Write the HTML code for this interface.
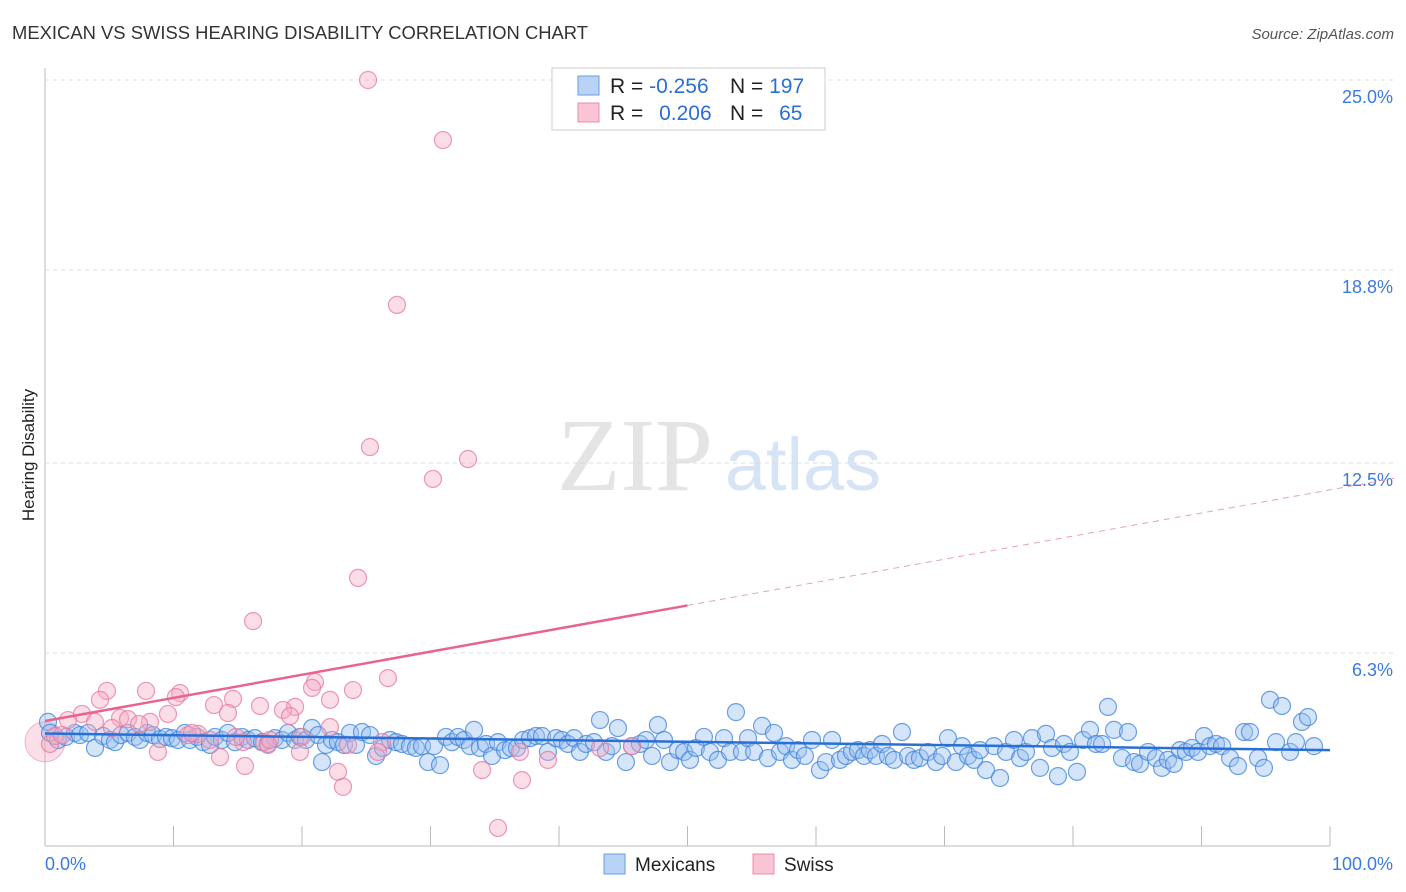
<!DOCTYPE html>
<html><head><meta charset="utf-8"><style>
body{margin:0;background:#fff;font-family:"Liberation Sans",sans-serif}
#wrap{position:relative;width:1406px;height:892px;overflow:hidden}
</style></head><body>
<div id="wrap">
<svg id="svg" width="1406" height="892" xmlns="http://www.w3.org/2000/svg">
<text x="12" y="39" font-size="18.4" fill="#333" textLength="576">MEXICAN VS SWISS HEARING DISABILITY CORRELATION CHART</text>
<text x="1394" y="39" font-size="15" fill="#555" text-anchor="end" font-style="italic">Source: ZipAtlas.com</text>
<text x="34" y="455" font-size="17" fill="#222" text-anchor="middle" transform="rotate(-90 34 455)">Hearing Disability</text>
<g><text x="635" y="490" font-size="104" fill="#e4e4e4" text-anchor="middle" font-family="Liberation Serif,serif">ZIP</text><text x="803" y="490" font-size="74" fill="#d6e4f5" text-anchor="middle">atlas</text></g>
<g id="grid"></g><g id="pts"></g><g id="trend"></g>
<g>
<rect x="552" y="68" width="273" height="62" fill="#fff" stroke="#ccc"/>
<rect x="578" y="76" width="21" height="19" fill="#b8d3f5" stroke="#6a9de0"/>
<rect x="578" y="103" width="21" height="19" fill="#f9c4d4" stroke="#ec8ca8"/>
<text x="610" y="93" font-size="21" fill="#222">R = <tspan fill="#2a6fd6">-0.256</tspan></text>
<text x="730" y="93" font-size="21" fill="#222">N = <tspan fill="#2a6fd6">197</tspan></text>
<text x="610" y="120" font-size="21" fill="#222">R = <tspan fill="#2a6fd6" dx="10">0.206</tspan></text>
<text x="730" y="120" font-size="21" fill="#222">N = <tspan fill="#2a6fd6" dx="10">65</tspan></text>
</g>
<g>
<rect x="604" y="854" width="21" height="20" fill="#b8d3f5" stroke="#6a9de0"/>
<text x="635" y="871" font-size="19" fill="#222">Mexicans</text>
<rect x="753" y="854" width="21" height="20" fill="#f9c4d4" stroke="#ec8ca8"/>
<text x="784" y="871" font-size="19" fill="#222">Swiss</text>
</g>
</svg></div>
<script>
const yTicks=[25,18.8,12.5,6.3];
const yTickLabels=["25.0%","18.8%","12.5%","6.3%"];
const xTickLabels=["0.0%","100.0%"];
const blueX=[];const blueY=[];const pinkX=[];const pinkY=[];
const bluePx=[48,722,50,733,58,740,66,737,75,733,80,735,88,733,95,748,103,736,110,740,115,742,121,735,128,733,135,737,140,740,147,733,153,735,160,739,166,737,172,738,178,740,185,733,190,740,197,737,203,742,210,745,215,737,222,740,228,733,235,742,242,737,248,740,255,738,262,742,268,744,275,738,282,740,288,733,295,740,300,737,306,740,312,728,318,735,322,762,326,745,332,740,338,742,344,745,350,733,356,745,362,732,370,735,376,756,383,748,390,740,396,742,402,744,410,746,416,748,422,746,428,762,434,746,440,765,446,737,452,742,458,737,464,740,470,746,474,730,480,748,486,744,492,756,498,742,505,750,511,748,517,748,523,740,530,738,536,736,542,736,548,752,556,738,562,740,568,744,574,738,580,752,586,744,594,742,600,720,606,752,612,746,618,728,626,762,632,746,640,744,646,740,652,756,658,725,664,740,670,762,678,750,684,752,690,760,696,748,704,737,710,752,718,760,724,738,730,752,736,712,742,752,748,738,754,752,762,726,768,758,774,733,780,752,786,746,792,760,798,750,805,756,812,740,820,770,826,762,832,740,840,760,846,756,852,752,858,750,864,756,870,750,876,756,882,744,888,756,894,760,902,732,908,756,914,760,920,758,928,752,936,762,942,756,948,738,956,762,962,746,968,756,974,760,980,750,986,770,994,746,1000,778,1006,752,1014,740,1020,758,1026,752,1032,738,1040,768,1046,734,1052,748,1058,776,1064,744,1070,752,1077,772,1083,740,1090,730,1096,744,1102,744,1108,707,1114,730,1122,758,1128,732,1134,762,1140,764,1148,752,1156,758,1162,768,1168,760,1174,764,1180,750,1186,752,1192,748,1198,752,1204,736,1210,746,1216,744,1222,746,1230,758,1238,766,1244,732,1250,732,1258,758,1264,768,1270,700,1276,742,1282,706,1290,752,1296,742,1302,722,1308,717,1314,746];
const pinkPx=[368,80,443,140,397,305,370,447,468,459,433,479,358,578,253,621,388,678,315,682,353,690,312,688,107,691,146,691,180,693,176,697,100,700,233,699,214,705,295,707,283,710,330,700,260,706,228,713,168,714,290,716,82,714,68,720,95,722,120,718,128,719,150,722,139,724,112,728,198,734,188,735,192,733,210,740,243,742,330,727,264,742,302,737,382,742,348,745,268,745,158,752,220,757,300,752,378,752,520,752,548,760,632,746,245,766,482,770,338,772,522,780,343,787,498,828,50,744,55,736,62,735,270,740,236,737,600,748];
for(let i=0;i<bluePx.length;i+=2){blueX.push(+((bluePx[i]-45)/12.85).toFixed(2));blueY.push(+((846-bluePx[i+1])/30.64).toFixed(2));}
for(let i=0;i<pinkPx.length;i+=2){pinkX.push(+((pinkPx[i]-45)/12.85).toFixed(2));pinkY.push(+((846-pinkPx[i+1])/30.64).toFixed(2));}
const blueTrend=[3.67,3.13];const pinkTrend=[4.08,12.0];
const X=v=>45+v*12.85, Y=v=>846-v*30.64;
const NS="http://www.w3.org/2000/svg";
function mk(t,a,p){const e=document.createElementNS(NS,t);for(const k in a)e.setAttribute(k,a[k]);p.appendChild(e);return e;}
const grid=document.getElementById('grid');
mk('line',{x1:45,y1:68,x2:45,y2:846,stroke:'#bbb'},grid);
mk('line',{x1:45,y1:846,x2:1330,y2:846,stroke:'#bbb'},grid);
yTicks.forEach((t,i)=>{
 const g=mk('line',{x1:45,y1:Y(t),x2:1393,y2:Y(t),stroke:'#ddd','stroke-dasharray':'4,4'},grid);
 
 const tx=mk('text',{x:1393,y:Y(t)+23,'font-size':18,fill:'#3a7be0','text-anchor':'end'},grid);tx.textContent=yTickLabels[i];
 
});
for(let i=0;i<=10;i++){const l=mk('line',{x1:X(i*10),y1:846,x2:X(i*10),y2:826,stroke:'#bbb'},grid);
 }
const xl=[[45,'start'],[1393,'end']];
xTickLabels.forEach((s,i)=>{const t=mk('text',{x:xl[i][0],y:870,'font-size':18,fill:'#3a7be0','text-anchor':xl[i][1]},grid);t.textContent=s;
 });
const pts=document.getElementById('pts');
const big=mk('circle',{cx:X(0),cy:Y(3.4),r:20,fill:'rgba(244,160,185,0.35)',stroke:'rgba(230,120,150,0.5)'},pts);

blueX.forEach((x,i)=>{const c=mk('circle',{cx:X(x),cy:Y(blueY[i]),r:8.5,fill:'rgba(150,190,240,0.4)',stroke:'rgba(60,130,220,0.75)','stroke-width':1.2},pts);
 });
pinkX.forEach((x,i)=>{const c=mk('circle',{cx:X(x),cy:Y(pinkY[i]),r:8.5,fill:'rgba(245,170,195,0.4)',stroke:'rgba(230,120,155,0.75)','stroke-width':1.2},pts);
 });
const tr=document.getElementById('trend');
let l=mk('line',{x1:X(0),y1:Y(blueTrend[0]),x2:X(100),y2:Y(blueTrend[1]),stroke:'#2a6fd6','stroke-width':2.5},tr);

const pm=v=>pinkTrend[0]+(pinkTrend[1]-pinkTrend[0])*v/105;
l=mk('line',{x1:X(0),y1:Y(pm(0)),x2:X(50),y2:Y(pm(50)),stroke:'#e8648e','stroke-width':2.5},tr);

l=mk('line',{x1:X(50),y1:Y(pm(50)),x2:X(105),y2:Y(pm(105)),stroke:'#e8a0b8','stroke-width':1,'stroke-dasharray':'6,5'},tr);

</script>
</body></html>
